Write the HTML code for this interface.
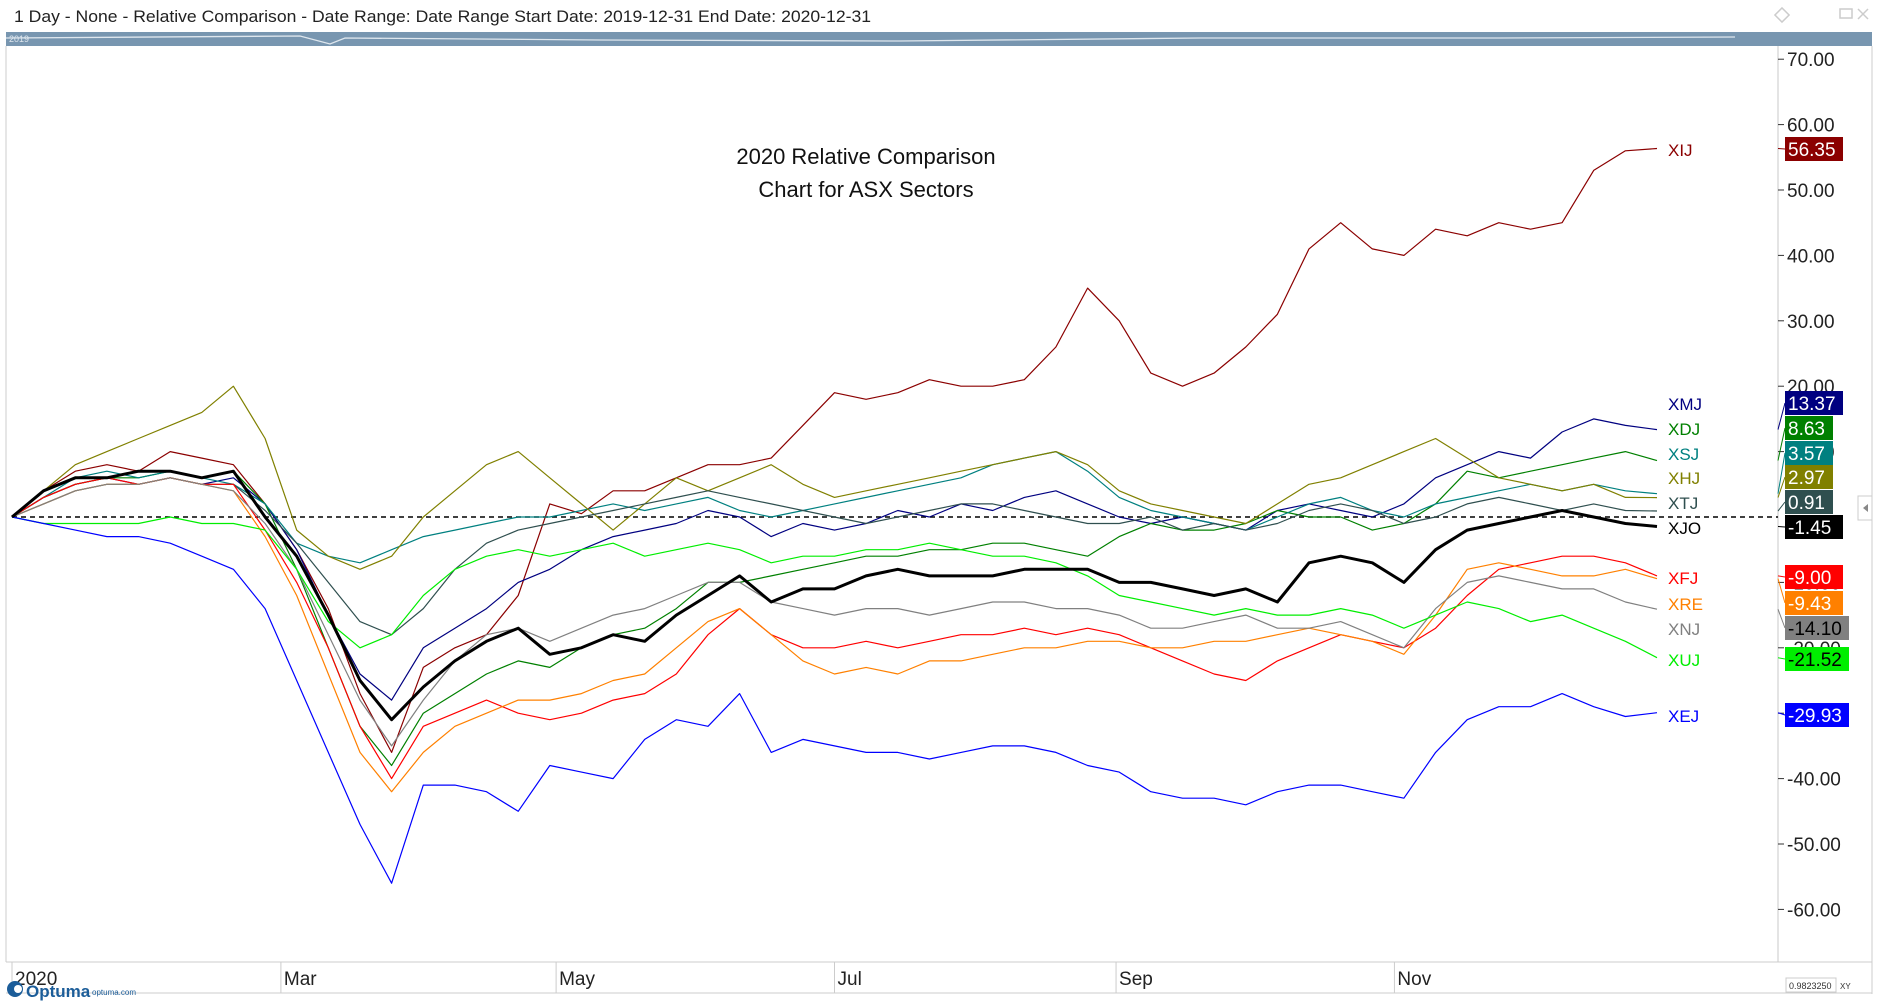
<!DOCTYPE html>
<html><head><meta charset="utf-8"><style>
html,body{margin:0;padding:0;background:#fff;}
svg{display:block;font-family:"Liberation Sans",sans-serif;}
</style></head><body>
<svg id="chart" width="1878" height="1001" viewBox="0 0 1878 1001">
<text x="14" y="22" font-size="17" fill="#222" textLength="857" lengthAdjust="spacingAndGlyphs">1 Day - None - Relative Comparison - Date Range: Date Range  Start Date: 2019-12-31  End Date: 2020-12-31</text>
<g fill="none" stroke="#ccc" stroke-width="1.5">
<rect x="1777" y="10" width="10" height="10" transform="rotate(45 1782 15)"/>
<rect x="1840" y="9" width="12" height="9"/>
<path d="M1858 9l10 10M1868 9l-10 10"/>
</g>
<rect x="6" y="32" width="1866" height="14" fill="#7896b0"/>
<polyline points="6,38 300,36 330,44 345,38 600,40 900,41 1200,38 1500,38 1735,37" fill="none" stroke="#dfe7ee" stroke-width="1.3"/>
<text x="9" y="42" font-size="9" fill="#dfe7ee">2019</text>
<line x1="6" y1="46" x2="6" y2="962" stroke="#ccc"/>
<line x1="1778" y1="46" x2="1778" y2="962" stroke="#c8c8c8"/>
<line x1="1872" y1="46" x2="1872" y2="994" stroke="#ccc"/>
<line x1="6" y1="962" x2="1872" y2="962" stroke="#ccc"/>
<line x1="6" y1="993" x2="1872" y2="993" stroke="#ccc"/>
<g id="yaxis"></g>
<g id="xaxis"></g>
<line id="zero" stroke="#000" stroke-width="1.5" stroke-dasharray="5,4"/>
<g id="series"></g>
<g id="labels"></g>
<text x="866" y="164" font-size="22" text-anchor="middle" fill="#111">2020 Relative Comparison</text>
<text x="866" y="197" font-size="22" text-anchor="middle" fill="#111">Chart for ASX Sectors</text>
<g>
<circle cx="15" cy="989" r="8" fill="#1c5d99"/><circle cx="18" cy="989" r="4" fill="#fff"/>
<text x="26" y="997" font-size="17" fill="#1c5d99" font-weight="bold">Optuma</text>
<text x="92" y="995" font-size="8" fill="#1c5d99">optuma.com</text>
</g>
<rect x="1786" y="978" width="50" height="14" fill="#fff" stroke="#ccc"/>
<text x="1789" y="989" font-size="9" fill="#333">0.9823250</text>
<text x="1840" y="989" font-size="8" fill="#333">XY</text>
<rect x="1858" y="496" width="14" height="24" fill="#fff" stroke="#ccc"/>
<path d="M1868 504l-5 4 5 4z" fill="#888"/>
</svg>
<script>
const yTicks=[70,60,50,40,30,20,10,-10,-20,-30,-40,-50,-60];
const monthLabels=["2020","Mar","May","Jul","Sep","Nov"];
const monthWeeks=[0,8.5,17.2,26,34.9,43.7];
const seriesNames=["XIJ","XMJ","XDJ","XSJ","XHJ","XTJ","XJO","XFJ","XRE","XNJ","XUJ","XEJ"];
const seriesColors=["#8b0000","#000080","#008000","#008080","#808000","#2f4f4f","#000000","#ff0000","#ff8000","#808080","#00ee00","#0000ff"];
const lastValues=["56.35","13.37","8.63","3.57","2.97","0.91","-1.45","-9.00","-9.43","-14.10","-21.52","-29.93"];
const xij=[0,4,7,8,7,10,9,8,2,-5,-14,-27,-36,-23,-20,-18,-12,2,0.5,4,4,6,8,8,9,14,19,18,19,21,20,20,21,26,35,30,22,20,22,26,31,41,45,41,40,44,43,45,44,45,53,56,56.35];
const xmj=[0,3,5,6,5,6,5,6,2,-5,-15,-24,-28,-20,-17,-14,-10,-8,-5,-3,-2,-1,1,0,-3,-1,-2,-1,1,0,2,1,3,4,2,0,-1,0,-1,-2,1,2,1,0,2,6,8,10,9,13,15,14,13.37];
const xdj=[0,3,5,6,6,7,6,7,2,-8,-20,-32,-38,-30,-27,-24,-22,-23,-20,-18,-17,-14,-10,-10,-9,-8,-7,-6,-6,-5,-5,-4,-4,-5,-6,-3,-1,-2,-2,-1,1,0,0,-2,-1,2,7,6,7,8,9,10,8.63];
const xsj=[0,3,6,7,6,7,6,5,2,-4,-6,-7,-5,-3,-2,-1,0,0,1,2,1,2,3,1,0,1,2,3,4,5,6,8,9,10,7,3,1,0,-1,-2,0,2,3,1,0,2,3,4,5,4,5,4,3.57];
const xhj=[0,4,8,10,12,14,16,20,12,-2,-6,-8,-6,0,4,8,10,6,2,-2,2,6,4,6,8,5,3,4,5,6,7,8,9,10,8,4,2,1,0,-1,2,5,6,8,10,12,9,6,5,4,5,3,2.97];
const xtj=[0,2,4,5,5,6,5,5,1,-4,-10,-16,-18,-14,-8,-4,-2,-1,0,1,2,3,4,3,2,1,0,-1,0,1,2,2,1,0,-1,-1,0,-2,-1,-2,-1,1,2,1,-1,0,2,3,2,1,2,1,0.91];
const xjo=[0,4,6,6,7,7,6,7,0,-6,-15,-25,-31,-26,-22,-19,-17,-21,-20,-18,-19,-15,-12,-9,-13,-11,-11,-9,-8,-9,-9,-9,-8,-8,-8,-10,-10,-11,-12,-11,-13,-7,-6,-7,-10,-5,-2,-1,0,1,0,-1,-1.45];
const xfj=[0,3,5,6,5,6,5,5,-2,-10,-20,-32,-40,-32,-30,-28,-30,-31,-30,-28,-27,-24,-18,-14,-18,-20,-20,-19,-20,-19,-18,-18,-17,-18,-17,-18,-20,-22,-24,-25,-22,-20,-18,-19,-20,-17,-12,-8,-7,-6,-6,-7,-9.00];
const xre=[0,2,4,5,5,6,5,4,-3,-12,-24,-36,-42,-36,-32,-30,-28,-28,-27,-25,-24,-20,-16,-14,-18,-22,-24,-23,-24,-22,-22,-21,-20,-20,-19,-19,-20,-20,-19,-19,-18,-17,-18,-19,-21,-15,-8,-7,-8,-9,-9,-8,-9.43];
const xnj=[0,2,4,5,5,6,5,4,-1,-8,-18,-28,-35,-28,-22,-18,-17,-19,-17,-15,-14,-12,-10,-10,-13,-14,-15,-14,-14,-15,-14,-13,-13,-14,-14,-15,-17,-17,-16,-15,-17,-17,-16,-18,-20,-14,-10,-9,-10,-11,-11,-13,-14.10];
const xuj=[0,-1,-1,-1,-1,0,-1,-1,-2,-8,-16,-20,-18,-12,-8,-6,-5,-6,-5,-4,-6,-5,-4,-5,-7,-6,-6,-5,-5,-4,-5,-6,-6,-7,-9,-12,-13,-14,-15,-14,-15,-15,-14,-15,-17,-15,-13,-14,-16,-15,-17,-19,-21.52];
const xej=[0,-1,-2,-3,-3,-4,-6,-8,-14,-25,-36,-47,-56,-41,-41,-42,-45,-38,-39,-40,-34,-31,-32,-27,-36,-34,-35,-36,-36,-37,-36,-35,-35,-36,-38,-39,-42,-43,-43,-44,-42,-41,-41,-42,-43,-36,-31,-29,-29,-27,-29,-30.5,-29.93];
const seriesData=[xij,xmj,xdj,xsj,xhj,xtj,xjo,xfj,xre,xnj,xuj,xej];
const labelOrderY=[149,403,428,453,477,502,527,577,603,628,659,715];
const NS="http://www.w3.org/2000/svg";
const X0=12,X1=1657,NW=52,Y0=517,PER=6.54;
function xs(i){return X0+i*(X1-X0)/NW;}
function ys(v){return Y0-v*PER;}
function mk(tag,attrs,parent){const e=document.createElementNS(NS,tag);for(const k in attrs)e.setAttribute(k,attrs[k]);parent.appendChild(e);return e;}
const yaxis=document.getElementById('yaxis');
yTicks.forEach(v=>{
  const l=mk('line',{x1:1778,x2:1784,y1:ys(v),y2:ys(v),stroke:'#333'},yaxis);
  
  
  const t=mk('text',{x:1787,y:ys(v)+7,'font-size':19,fill:'#222'},yaxis);
  t.textContent=v.toFixed(2);
  
  
});
const xaxis=document.getElementById('xaxis');
monthLabels.forEach((m,i)=>{
  const x=xs(monthWeeks[i]);
  const l=mk('line',{x1:x,x2:x,y1:962,y2:993,stroke:'#ccc'},xaxis);
  
  
  const t=mk('text',{x:x+3,y:985,'font-size':19,fill:'#222'},xaxis);
  t.textContent=m;
  
  
});
const z=document.getElementById('zero');
z.setAttribute('x1',X0);z.setAttribute('x2',1778);z.setAttribute('y1',ys(0));z.setAttribute('y2',ys(0));
const sg=document.getElementById('series'),lg=document.getElementById('labels');
seriesData.forEach((d,s)=>{
  if(s===6)return;
  drawSeries(d,s);
});
drawSeries(seriesData[6],6);
function drawSeries(d,s){
  const pts=d.map((v,i)=>xs(i).toFixed(1)+','+ys(v).toFixed(1)).join(' ');
  const p=mk('polyline',{points:pts,fill:'none',stroke:seriesColors[s],'stroke-width':s===6?3:1.2,'stroke-linejoin':'round'},sg);
  
  
  const ly=labelOrderY[s];
  const nm=mk('text',{x:1668,y:ly+7,'font-size':17,fill:seriesColors[s]},lg);
  nm.textContent=seriesNames[s];
  
  
  const lv=d[d.length-1];
  mk('line',{x1:1778,y1:ys(lv),x2:1785,y2:ly,stroke:seriesColors[s]},lg);
  const w=lastValues[s].length>5?64:(lastValues[s].length>4?58:48);
  const r=mk('rect',{x:1785,y:ly-12,width:w,height:24,fill:seriesColors[s]},lg);
  
  
  const dark=["#808080","#00ee00"].includes(seriesColors[s]);
  const t=mk('text',{x:1788,y:ly+7,'font-size':19,fill:dark?'#000':'#fff'},lg);
  t.textContent=lastValues[s];
  
  
}
</script>
</body></html>
